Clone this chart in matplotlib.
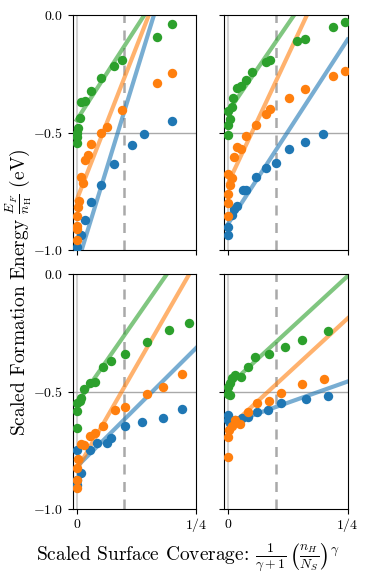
import matplotlib
matplotlib.use("Agg")
import matplotlib.pyplot as plt
import numpy as np

plt.rcParams["font.family"] = "serif"
plt.rcParams["font.serif"] = ["cmr10"]
plt.rcParams["mathtext.fontset"] = "cm"
plt.rcParams["axes.formatter.use_mathtext"] = True

# Scatter data per panel: (x, y) for the three series
tl_green_x = [0.199, 0.168, 0.096, 0.078, 0.051, 0.031, 0.017, 0.009, 0.007, 0.003, 0.0, 0.0, 0.0]
tl_green_y = [-0.040, -0.092, -0.191, -0.216, -0.270, -0.323, -0.366, -0.372, -0.437, -0.479, -0.501, -0.518, -0.543]
tl_orange_x = [0.199, 0.168, 0.096, 0.064, 0.051, 0.031, 0.024, 0.017, 0.009, 0.014, 0.005, 0.002, 0.001, 0.0, 0.0, 0.0]
tl_orange_y = [-0.248, -0.288, -0.404, -0.475, -0.501, -0.550, -0.596, -0.618, -0.688, -0.716, -0.790, -0.816, -0.855, -0.898, -0.912, -0.957]
tl_blue_x = [0.199, 0.141, 0.117, 0.078, 0.051, 0.031, 0.017, 0.010, 0.0]
tl_blue_y = [-0.450, -0.506, -0.553, -0.634, -0.723, -0.794, -0.872, -0.936, -0.986]

tr_green_x = [0.244, 0.220, 0.160, 0.143, 0.088, 0.078, 0.050, 0.037, 0.027, 0.018, 0.009, 0.008, 0.0, 0.004, 0.0, 0.0]
tr_green_y = [-0.031, -0.050, -0.102, -0.111, -0.191, -0.201, -0.241, -0.277, -0.302, -0.309, -0.355, -0.393, -0.407, -0.444, -0.468, -0.511]
tr_orange_x = [0.244, 0.220, 0.160, 0.127, 0.088, 0.078, 0.058, 0.037, 0.027, 0.018, 0.011, 0.0, 0.008, 0.004, 0.0, 0.0, 0.0]
tr_orange_y = [-0.237, -0.258, -0.315, -0.355, -0.401, -0.423, -0.468, -0.515, -0.570, -0.563, -0.603, -0.677, -0.695, -0.723, -0.763, -0.799, -0.855]
tr_blue_x = [0.199, 0.160, 0.127, 0.100, 0.078, 0.058, 0.037, 0.030, 0.018, 0.013, 0.008, 0.0, 0.0]
tr_blue_y = [-0.506, -0.539, -0.572, -0.631, -0.650, -0.688, -0.745, -0.745, -0.813, -0.827, -0.851, -0.901, -0.936]

bl_green_x = [0.236, 0.193, 0.147, 0.102, 0.073, 0.056, 0.038, 0.029, 0.016, 0.010, 0.006, 0.001, 0.0, 0.0]
bl_green_y = [-0.210, -0.238, -0.288, -0.340, -0.370, -0.397, -0.458, -0.465, -0.490, -0.528, -0.538, -0.550, -0.582, -0.656]
bl_orange_x = [0.220, 0.181, 0.147, 0.102, 0.080, 0.056, 0.038, 0.029, 0.015, 0.009, 0.003, 0.001, 0.0, 0.0]
bl_orange_y = [-0.425, -0.482, -0.510, -0.564, -0.578, -0.646, -0.674, -0.688, -0.727, -0.722, -0.788, -0.826, -0.875, -0.911]
bl_blue_x = [0.220, 0.181, 0.137, 0.102, 0.073, 0.063, 0.043, 0.028, 0.010, 0.0, 0.0, 0.0]
bl_blue_y = [-0.575, -0.613, -0.627, -0.646, -0.698, -0.720, -0.720, -0.748, -0.844, -0.748, -0.875, -0.897]

br_green_x = [0.209, 0.155, 0.118, 0.086, 0.057, 0.042, 0.027, 0.015, 0.008, 0.004, 0.0, 0.0, 0.004]
br_green_y = [-0.242, -0.280, -0.309, -0.341, -0.354, -0.397, -0.439, -0.429, -0.440, -0.465, -0.479, -0.510, -0.514]
br_orange_x = [0.201, 0.155, 0.111, 0.086, 0.060, 0.042, 0.025, 0.015, 0.008, 0.002, 0.0, 0.0]
br_orange_y = [-0.446, -0.469, -0.504, -0.540, -0.550, -0.585, -0.637, -0.620, -0.646, -0.663, -0.694, -0.776]
br_blue_x = [0.209, 0.162, 0.111, 0.083, 0.060, 0.042, 0.028, 0.015, 0.0, 0.0, 0.004]
br_blue_y = [-0.518, -0.531, -0.547, -0.578, -0.588, -0.606, -0.613, -0.620, -0.599, -0.620, -0.632]

# Linear fits per panel (intercept, slope) for blue, orange, green
tl_fits = [(-1.069, 6.6), (-0.787, 5.2), (-0.447, 3.15)]
tr_fits = [(-0.887, 3.13), (-0.714, 4.33), (-0.41, 2.97)]
bl_fits = [(-0.82, 2.02), (-0.833, 3.53), (-0.552, 2.92)]
br_fits = [(-0.637, 0.72), (-0.656, 1.87), (-0.476, 1.87)]

colors = ["tab:blue", "tab:orange", "tab:green"]
fit_x = np.array([0.0, 0.25])
cutoff = 0.1

panels = [
    ([(tl_blue_x, tl_blue_y), (tl_orange_x, tl_orange_y), (tl_green_x, tl_green_y)], tl_fits),
    ([(tr_blue_x, tr_blue_y), (tr_orange_x, tr_orange_y), (tr_green_x, tr_green_y)], tr_fits),
    ([(bl_blue_x, bl_blue_y), (bl_orange_x, bl_orange_y), (bl_green_x, bl_green_y)], bl_fits),
    ([(br_blue_x, br_blue_y), (br_orange_x, br_orange_y), (br_green_x, br_green_y)], br_fits),
]

fig, axes = plt.subplots(2, 2, sharex=True, sharey=True, figsize=(3.69, 5.88), dpi=100)
fig.subplots_adjust(left=0.197, right=0.942, bottom=0.134, top=0.9745, wspace=0.23, hspace=0.102)

for ax, (series, fits) in zip(axes.flat, panels):
    ax.axvline(0, color="lightgray", lw=1.5, zorder=0)
    ax.axhline(-0.5, color="darkgray", lw=1.0, zorder=0)
    ax.axvline(cutoff, color="darkgray", lw=1.8, ls=(0, (4, 3)), zorder=1)
    for (a, b), c in zip(fits, colors):
        ax.plot(fit_x, a + b * fit_x, color=c, lw=3, alpha=0.6, zorder=2)
    for (x, y), c in zip(series, colors):
        ax.scatter(x, y, color=c, s=46, zorder=3, linewidths=0)
    ax.set_xlim(-0.0083, 0.25)
    ax.set_ylim(-1.0, 0.0)
    ax.set_xticks([0, 0.25])
    ax.set_xticklabels(["0", "1/4"])
    ax.set_yticks([-1.0, -0.5, 0.0])
    ax.tick_params(labelsize=10)

fig.text(0.05, 0.503, r"Scaled Formation Energy $\frac{E_F}{n_\mathrm{H}}$ (eV)",
         rotation=90, ha="center", va="center", fontsize=14)
fig.text(0.51, 0.051, r"Scaled Surface Coverage: $\frac{1}{\gamma+1}\,\left(\frac{n_H}{N_S}\right)^\gamma$",
         ha="center", va="center", fontsize=14)

fig.savefig("out.png", dpi=100)
